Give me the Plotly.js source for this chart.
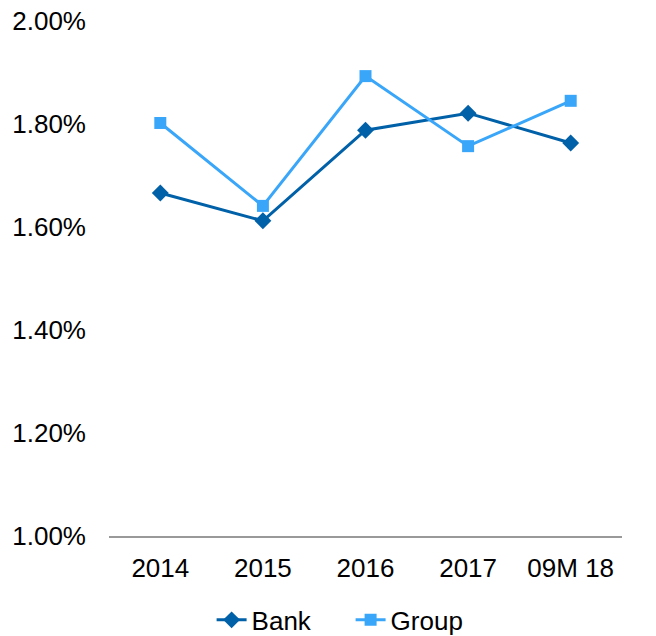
<!DOCTYPE html>
<html>
<head>
<meta charset="utf-8">
<script src="https://cdn.plot.ly/plotly-3.0.1.min.js"></script>
<style>html,body{margin:0;padding:0;background:#fff;}#chart{width:656px;height:636px;}</style>
</head>
<body>
<div id="chart"></div>
<script>
const categories = ["2014", "2015", "2016", "2017", "09M 18"];
const bankValues = [0.01666, 0.01612, 0.01788, 0.01821, 0.01763];
const groupValues = [0.01802, 0.01641, 0.01893, 0.01757, 0.01845];
const yTickValues = [0.010, 0.012, 0.014, 0.016, 0.018, 0.020];

const traces = [
  {
    x: categories, y: bankValues, name: "Bank", type: "scatter", mode: "lines+markers",
    line: {color: "#0060A8", width: 3},
    marker: {symbol: "diamond", size: 13, color: "#0060A8"}
  },
  {
    x: categories, y: groupValues, name: "Group", type: "scatter", mode: "lines+markers",
    line: {color: "#3AA6F9", width: 3},
    marker: {symbol: "square", size: 12, color: "#3AA6F9"}
  }
];

const layout = {
  width: 656, height: 636,
  margin: {l: 109, r: 34, t: 21, b: 100, autoexpand: false},
  paper_bgcolor: "#fff", plot_bgcolor: "#fff",
  font: {family: "Liberation Sans, Arial, sans-serif", size: 26, color: "#000"},
  showlegend: true,
  legend: {orientation: "h", x: 0.2, xanchor: "left", y: -0.163, yanchor: "middle",
           font: {size: 26}, entrywidth: 94, entrywidthmode: "pixels"},
  xaxis: {
    type: "category", range: [-0.5, 4.5], showgrid: false, zeroline: false,
    showline: true, linecolor: "#999", linewidth: 1.5,
    ticks: "", ticklabelstandoff: 8
  },
  yaxis: {
    range: [0.010, 0.020], tickvals: yTickValues, tickformat: ".2%",
    showgrid: false, zeroline: false, showline: false, ticks: "",
    ticklabelstandoff: 22
  }
};

Plotly.newPlot("chart", traces, layout, {displayModeBar: false, staticPlot: true});
</script>
</body>
</html>
